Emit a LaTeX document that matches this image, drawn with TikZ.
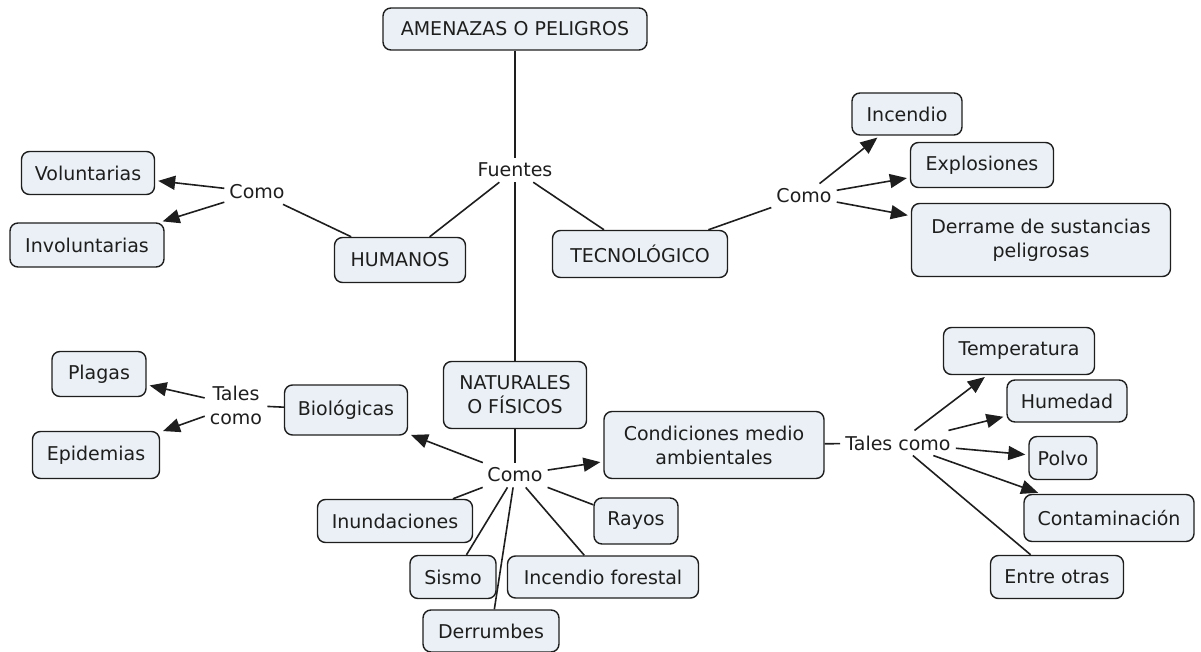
\documentclass[tikz,border=0pt]{standalone}
\usepackage{fontspec}
\setmainfont{DejaVu Sans}
\usetikzlibrary{arrows.meta}
\definecolor{boxfill}{RGB}{234,240,245}
\definecolor{ink}{RGB}{30,30,30}
\tikzset{
  box/.style={draw=ink, fill=boxfill, rounded corners=8pt, line width=1.4pt,
    inner xsep=8pt, inner ysep=5pt, align=center, text=ink,
    font=\fontsize{19}{24}\selectfont},
  lbl/.style={inner sep=5pt, align=center, text=ink, font=\fontsize{19}{24}\selectfont},
  conn/.style={line width=1.6pt, draw=ink},
  arr/.style={conn, -{Triangle[length=17pt,width=14pt]}, shorten >=3pt},
}
\begin{document}
\begin{tikzpicture}[x=1pt,y=-1pt]
\useasboundingbox (0,0) rectangle (1201,652);
% boxes
\node[box, minimum width=264pt, minimum height=42pt] (amen) at (515,29) {AMENAZAS O PELIGROS};
\node[lbl] (fuentes) at (515,170) {Fuentes};
\node[box, minimum width=133pt, minimum height=43pt] (volun) at (88,173) {Voluntarias};
\node[box, minimum width=154pt, minimum height=44pt] (invol) at (87,245) {Involuntarias};
\node[lbl] (comoL) at (257,192) {Como};
\node[box, minimum width=131pt, minimum height=45pt] (hum) at (400,260) {HUMANOS};
\node[box, minimum width=175pt, minimum height=47pt] (tec) at (640,254) {TECNOLÓGICO};
\node[lbl] (comoR) at (804,196) {Como};
\node[box, minimum width=110pt, minimum height=42pt] (incend) at (907,114) {Incendio};
\node[box, minimum width=143pt, minimum height=45pt] (explo) at (982,165) {Explosiones};
\node[box, minimum width=259pt, minimum height=73pt] (derr) at (1041,240) {Derrame de sustancias\\peligrosas};
\node[box, minimum width=143pt, minimum height=67pt] (nat) at (515,395) {NATURALES\\O FÍSICOS};
\node[box, minimum width=94pt, minimum height=45pt] (plagas) at (99,374) {Plagas};
\node[lbl] (talesL) at (236,405) {Tales\\como};
\node[box, minimum width=127pt, minimum height=47pt] (epid) at (96,455) {Epidemias};
\node[box, minimum width=123pt, minimum height=50pt] (bio) at (346,410) {Biológicas};
\node[lbl] (comoB) at (515,475) {Como};
\node[box, minimum width=220pt, minimum height=67pt] (cond) at (714,445) {Condiciones medio\\ambientales};
\node[lbl] (talesR) at (898,443) {Tales como};
\node[box, minimum width=155pt, minimum height=43pt] (inund) at (395,521) {Inundaciones};
\node[box, minimum width=84pt, minimum height=46pt] (rayos) at (636,521) {Rayos};
\node[box, minimum width=86pt, minimum height=43pt] (sismo) at (453,577) {Sismo};
\node[box, minimum width=191pt, minimum height=42pt] (incfor) at (603,577) {Incendio forestal};
\node[box, minimum width=136pt, minimum height=42pt] (derrum) at (491,631) {Derrumbes};
\node[box, minimum width=151pt, minimum height=47pt] (temp) at (1019,351) {Temperatura};
\node[box, minimum width=120pt, minimum height=42pt] (humed) at (1067,401) {Humedad};
\node[box, minimum width=68pt, minimum height=43pt] (polvo) at (1063,458) {Polvo};
\node[box, minimum width=170pt, minimum height=47pt] (contam) at (1109,518) {Contaminación};
\node[box, minimum width=133pt, minimum height=43pt] (entre) at (1057,577) {Entre otras};
% connectors
\draw[conn] (amen) -- (fuentes);
\draw[conn] (fuentes) -- (nat);
\draw[conn] (fuentes) -- (hum);
\draw[conn] (fuentes) -- (tec);
\draw[conn] (hum) -- (comoL);
\draw[arr] (comoL) -- (volun);
\draw[arr] (comoL) -- (invol);
\draw[conn] (tec) -- (comoR);
\draw[arr] (comoR) -- (incend);
\draw[arr] (comoR) -- (explo);
\draw[arr] (comoR) -- (derr);
\draw[conn] (nat) -- (comoB);
\draw[arr] (comoB) -- (bio);
\draw[arr] (comoB) -- (cond);
\draw[conn] (comoB) -- (inund);
\draw[conn] (comoB) -- (rayos);
\draw[conn] (comoB) -- (sismo);
\draw[conn] (comoB) -- (incfor);
\draw[conn] (comoB) -- (derrum);
\draw[conn] (bio) -- (talesL);
\draw[arr] (talesL) -- (plagas);
\draw[arr] (talesL) -- (epid);
\draw[conn] (cond) -- (talesR);
\draw[arr] (talesR) -- (temp);
\draw[arr] (talesR) -- (humed);
\draw[arr] (talesR) -- (polvo);
\draw[arr] (talesR) -- (contam);
\draw[conn] (talesR) -- (entre);
\end{tikzpicture}
\end{document}
